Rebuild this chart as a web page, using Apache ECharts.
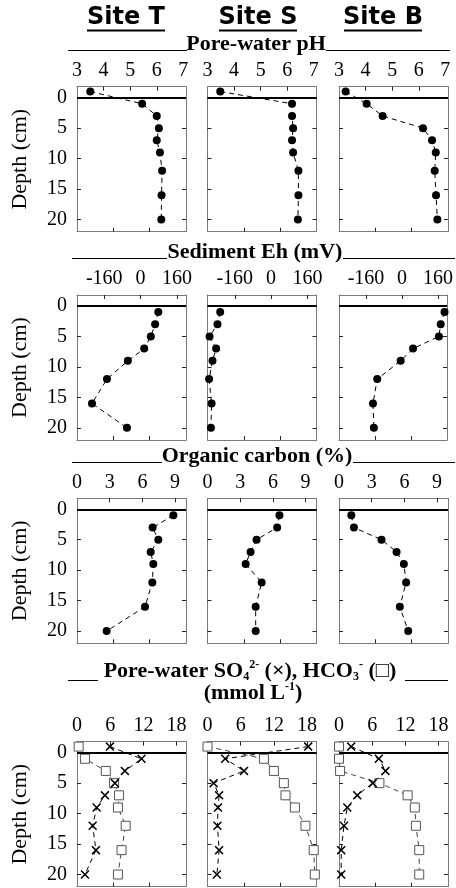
<!DOCTYPE html>
<html>
<head>
<meta charset="utf-8">
<script src="https://cdn.jsdelivr.net/npm/echarts@6/dist/echarts.min.js"></script>
<style>
html,body{margin:0;padding:0;background:#fff;}
#chart{width:456px;height:888px;}
</style>
</head>
<body>
<div id="chart"></div>
<script>
// ---------- data ----------
const siteNames = ['Site T', 'Site S', 'Site B'];
const depthsWater = [-1, 1, 3, 5, 7, 9, 12, 16, 20];
const depthsSed = [1, 3, 5, 7, 9, 12, 16, 20];
const depthTicks = [0, 5, 10, 15, 20];

const pHTicks = [3, 4, 5, 6, 7];
const pH_T = [3.5, 5.45, 6.0, 6.08, 6.0, 6.12, 6.2, 6.18, 6.17];
const pH_S = [3.48, 6.18, 6.18, 6.22, 6.18, 6.22, 6.42, 6.42, 6.4];
const pH_B = [3.25, 4.04, 4.64, 6.16, 6.5, 6.64, 6.6, 6.65, 6.7];

const ehTicks = [-160, 0, 160];
const eh_T = [78, 64, 45, 16, -56, -148, -214, -60];
const eh_S = [-224, -236, -271, -242, -258, -273, -262, -265];
const eh_B = [189, 172, 164, 49, -6, -110, -129, -125];

const ocTicks = [0, 3, 6, 9];
const oc_T = [8.84, 6.94, 7.46, 6.76, 7.0, 6.91, 6.24, 2.72];
const oc_S = [6.6, 6.39, 4.5, 3.95, 3.5, 4.97, 4.42, 4.42];
const oc_B = [1.13, 1.37, 3.9, 5.28, 5.95, 6.16, 5.58, 6.35];

const ionTicks = [0, 6, 12, 18];
const so4_T = [5.95, 11.66, 8.65, 6.85, 5.05, 3.55, 2.83, 3.42, 1.44];
const hco3_T = [0.3, 1.44, 5.2, 6.7, 7.6, 7.4, 8.8, 8.05, 7.4];
const so4_S = [18.2, 3.2, 6.6, 1.1, 2.1, 1.9, 1.8, 2.1, 1.7];
const hco3_S = [0, 10.2, 12.0, 13.8, 14.1, 15.8, 17.7, 19.2, 19.4];
const so4_B = [2.2, 7.2, 8.4, 6.1, 3.3, 1.5, 0.9, 0.4, 0.4];
const hco3_B = [0, 0, 0.2, 7.3, 12.4, 13.7, 13.9, 14.5, 14.5];

// ---------- layout ----------
const lefts = [77, 207.5, 339];
const tops = [86.7, 295, 498.3, 741.7];
const gw = 109, gh = 145;
const yMin = -1.8, yMax = 22;
const SERIF = 'Liberation Serif';

const CROSS = 'path://M0,1.2L1.2,0L5,3.8L8.8,0L10,1.2L6.2,5L10,8.8L8.8,10L5,6.2L1.2,10L0,8.8L3.8,5Z';

const panels = [
  { min: 3, max: 7.1, labels: pHTicks, ticks: [4, 5, 6],
    sets: [[{v: pH_T, d: depthsWater, m: 'dot'}], [{v: pH_S, d: depthsWater, m: 'dot'}], [{v: pH_B, d: depthsWater, m: 'dot'}]] },
  { min: -280, max: 200, labels: ehTicks, ticks: [-160, 0, 160],
    sets: [[{v: eh_T, d: depthsSed, m: 'dot'}], [{v: eh_S, d: depthsSed, m: 'dot'}], [{v: eh_B, d: depthsSed, m: 'dot'}]] },
  { min: 0, max: 10, labels: ocTicks, ticks: [3, 6, 9],
    sets: [[{v: oc_T, d: depthsSed, m: 'dot'}], [{v: oc_S, d: depthsSed, m: 'dot'}], [{v: oc_B, d: depthsSed, m: 'dot'}]] },
  { min: 0, max: 19.7, labels: ionTicks, ticks: [6, 12, 18],
    sets: [[{v: so4_T, d: depthsWater, m: 'x'}, {v: hco3_T, d: depthsWater, m: 'sq'}],
           [{v: so4_S, d: depthsWater, m: 'x'}, {v: hco3_S, d: depthsWater, m: 'sq'}],
           [{v: so4_B, d: depthsWater, m: 'x'}, {v: hco3_B, d: depthsWater, m: 'sq'}]] }
];

const grid = [], xAxis = [], yAxis = [], series = [];
const frame = {show: true, onZero: false, lineStyle: {color: '#7a7a7a', width: 1}};
const tickStyle = {color: '#222', width: 1};

panels.forEach((p, r) => {
  for (let c = 0; c < 3; c++) {
    const g = grid.length;
    grid.push({left: lefts[c], top: tops[r], width: gw, height: gh});
    const third = (p.max - p.min) / 3;
    xAxis.push({
      type: 'value', gridIndex: g, position: 'top', min: p.min, max: p.max,
      axisLine: frame,
      axisTick: {show: true, inside: true, length: 4, lineStyle: tickStyle, customValues: p.ticks},
      axisLabel: {show: true, customValues: p.labels, fontFamily: SERIF, fontSize: 20, color: '#000', margin: 6},
      splitLine: {show: false}
    });
    xAxis.push({
      type: 'value', gridIndex: g, position: 'bottom', min: p.min, max: p.max,
      axisLine: frame,
      axisTick: {show: true, inside: true, length: 4, lineStyle: tickStyle, customValues: [p.min + third, p.min + 2 * third]},
      axisLabel: {show: false},
      splitLine: {show: false}
    });
    yAxis.push({
      type: 'value', gridIndex: g, position: 'left', inverse: true, min: yMin, max: yMax,
      axisLine: frame,
      axisTick: {show: true, inside: true, length: 4, lineStyle: tickStyle, customValues: depthTicks},
      axisLabel: {show: c === 0, customValues: depthTicks, fontFamily: SERIF, fontSize: 20, color: '#000', margin: 10},
      splitLine: {show: false},
      name: c === 0 ? 'Depth (cm)' : '',
      nameLocation: 'middle', nameGap: 46, nameRotate: 90,
      nameTextStyle: {fontFamily: SERIF, fontSize: 22, color: '#000'}
    });
    yAxis.push({
      type: 'value', gridIndex: g, position: 'right', inverse: true, min: yMin, max: yMax,
      axisLine: frame,
      axisTick: {show: true, inside: true, length: 4, lineStyle: tickStyle, customValues: depthTicks},
      axisLabel: {show: false},
      splitLine: {show: false}
    });
    p.sets[c].forEach((s, k) => {
      const data = s.v.map((v, i) => [v, s.d[i]]);
      const ser = {
        type: 'line', xAxisIndex: 2 * g, yAxisIndex: 2 * g, data: data, clip: false,
        lineStyle: {type: [5, 4], width: 1, color: s.m === 'sq' ? '#444' : '#000'},
        z: s.m === 'sq' ? 2 : 3
      };
      if (s.m === 'dot') {
        ser.symbol = 'circle'; ser.symbolSize = 8; ser.itemStyle = {color: '#000'};
      } else if (s.m === 'x') {
        ser.symbol = CROSS; ser.symbolSize = 9; ser.itemStyle = {color: '#000'};
      } else {
        ser.symbol = 'rect'; ser.symbolSize = 9;
        ser.itemStyle = {color: '#fff', borderColor: '#555', borderWidth: 1};
      }
      if (k === 0) {
        ser.markLine = {
          silent: true, symbol: 'none', label: {show: false},
          lineStyle: {type: 'solid', color: '#000', width: 2},
          data: [{yAxis: 0}]
        };
      }
      series.push(ser);
    });
  }
});

// ---------- decorations ----------
const titleX = [126, 258, 383];
const graphic = [];
siteNames.forEach((t, i) => {
  graphic.push({type: 'text', x: titleX[i], y: 18, style: {text: t, font: 'bold 24px "DejaVu Sans"', fill: '#000', align: 'center', verticalAlign: 'middle'}});
  graphic.push({type: 'line', shape: {x1: titleX[i] - 39, y1: 30.5, x2: titleX[i] + 39, y2: 30.5}, style: {stroke: '#000', lineWidth: 2}});
});
function rule(x1, x2, y) {
  graphic.push({type: 'line', shape: {x1: x1, y1: y, x2: x2, y2: y}, style: {stroke: '#000', lineWidth: 1}});
}
function secTitle(text, cx, cy) {
  graphic.push({type: 'text', x: cx, y: cy, style: {text: text, font: 'bold 22px "Liberation Serif"', fill: '#000', align: 'center', verticalAlign: 'middle'}});
}
secTitle('Pore-water pH', 256, 44); rule(68, 187, 50.5); rule(326, 450, 50.5);
secTitle('Sediment Eh (mV)', 255, 252); rule(72, 167, 258.5); rule(343, 455, 258.5);
secTitle('Organic carbon (%)', 257, 456); rule(72, 162, 462.5); rule(353, 455, 462.5);
graphic.push({type: 'text', x: 250, y: 671, style: {
  text: '{n|Pore-water SO}{sub|4}{sup|2-}{n| (×), HCO}{sub|3}{sup|-}{n| (□)}',
  align: 'center', verticalAlign: 'middle',
  rich: {
    n: {fontFamily: SERIF, fontWeight: 'bold', fontSize: 22, lineHeight: 24, fill: '#000'},
    sub: {fontFamily: SERIF, fontWeight: 'bold', fontSize: 12, lineHeight: 24, verticalAlign: 'bottom', fill: '#000'},
    sup: {fontFamily: SERIF, fontWeight: 'bold', fontSize: 12, lineHeight: 12, verticalAlign: 'top', fill: '#000'}
  }
}});
rule(68, 98, 680.5); rule(405, 448, 680.5);
graphic.push({type: 'text', x: 253, y: 693, style: {
  text: '{n|(mmol L}{sup|-1}{n|)}',
  align: 'center', verticalAlign: 'middle',
  rich: {
    n: {fontFamily: SERIF, fontWeight: 'bold', fontSize: 22, lineHeight: 24, fill: '#000'},
    sup: {fontFamily: SERIF, fontWeight: 'bold', fontSize: 12, lineHeight: 12, verticalAlign: 'top', fill: '#000'}
  }
}});

const chart = echarts.init(document.getElementById('chart'), null, {renderer: 'canvas'});
chart.setOption({
  animation: false,
  backgroundColor: '#fff',
  grid: grid, xAxis: xAxis, yAxis: yAxis, series: series,
  graphic: graphic
});
</script>
</body>
</html>
